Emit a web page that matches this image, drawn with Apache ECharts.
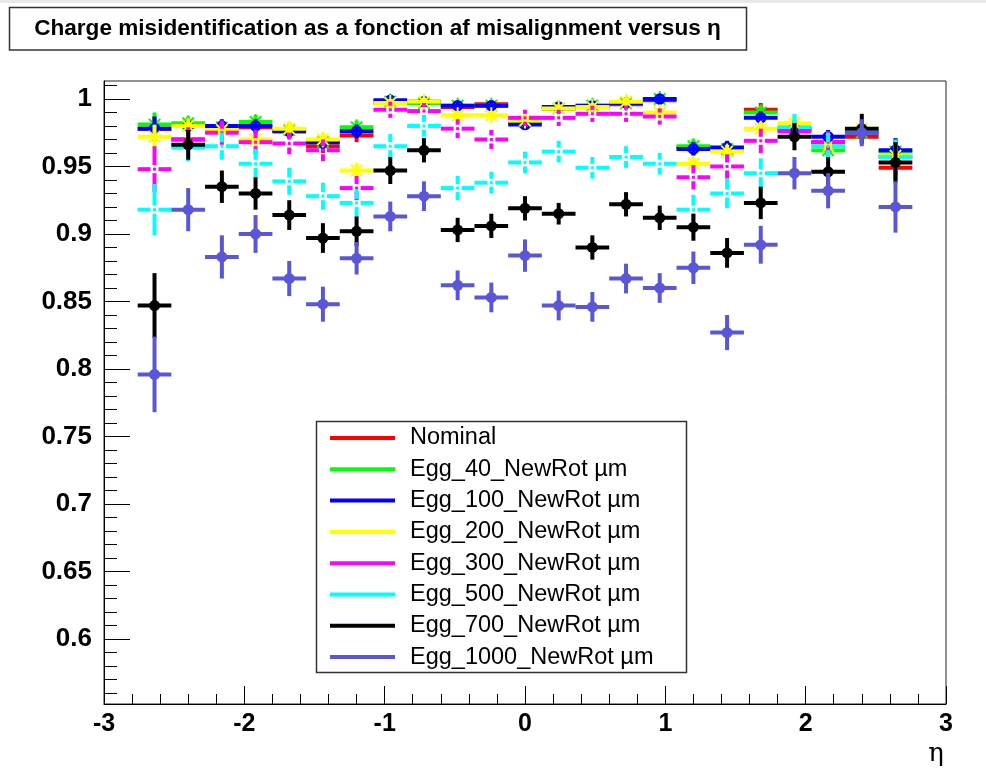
<!DOCTYPE html>
<html>
<head>
<meta charset="utf-8">
<script src="https://cdn.jsdelivr.net/npm/echarts@6/dist/echarts.min.js"></script>
<style>
  html, body { margin: 0; padding: 0; background: #fff; }
  #chart { width: 986px; height: 777px; }
</style>
</head>
<body>
<div id="chart"></div>
<script>
// bin centres in eta (bin width 0.24)
const etaBins = [-2.64, -2.4, -2.16, -1.92, -1.68, -1.44, -1.2, -0.96, -0.72, -0.48, -0.24, 0,
  0.24, 0.48, 0.72, 0.96, 1.2, 1.44, 1.68, 1.92, 2.16, 2.4, 2.64];
const binHalfWidth = 0.12;

// values
const nominal = [0.978, 0.970, 0.977, 0.979, 0.976, 0.965, 0.973, 0.997, 0.997, 0.994, 0.996, 0.984,
  0.993, 0.994, 0.996, 0.999, 0.964, 0.962, 0.992, 0.977, 0.968, 0.972, 0.949];
const egg40 = [0.981, 0.982, 0.979, 0.983, 0.977, 0.968, 0.979, 0.998, 0.997, 0.995, 0.995, 0.983,
  0.993, 0.995, 0.997, 1.000, 0.965, 0.963, 0.990, 0.978, 0.962, 0.975, 0.961];
const egg100 = [0.978, 0.980, 0.980, 0.980, 0.976, 0.968, 0.976, 0.999, 0.998, 0.995, 0.995, 0.981,
  0.994, 0.995, 0.997, 1.000, 0.963, 0.964, 0.986, 0.978, 0.972, 0.976, 0.962];
const egg200 = [0.972, 0.980, 0.977, 0.970, 0.978, 0.970, 0.947, 0.997, 0.998, 0.988, 0.988, 0.984,
  0.993, 0.994, 0.998, 0.990, 0.952, 0.961, 0.978, 0.982, 0.965, 0.978, 0.958];
const egg300 = [0.948, 0.970, 0.975, 0.968, 0.967, 0.962, 0.934, 0.992, 0.991, 0.978, 0.970, 0.986,
  0.986, 0.989, 0.989, 0.987, 0.942, 0.950, 0.969, 0.976, 0.968, 0.975, 0.957];
const egg500 = [0.918, 0.964, 0.965, 0.952, 0.939, 0.928, 0.923, 0.965, 0.980, 0.934, 0.938, 0.953,
  0.961, 0.949, 0.957, 0.952, 0.918, 0.930, 0.945, 0.979, 0.965, 0.976, 0.957];
const egg700 = [0.847, 0.966, 0.935, 0.930, 0.914, 0.897, 0.902, 0.947, 0.962, 0.903, 0.906, 0.919,
  0.915, 0.890, 0.922, 0.912, 0.905, 0.886, 0.923, 0.972, 0.946, 0.978, 0.953];
const egg1000 = [0.796, 0.918, 0.883, 0.900, 0.867, 0.848, 0.882, 0.913, 0.928, 0.862, 0.853, 0.884,
  0.847, 0.846, 0.867, 0.860, 0.875, 0.827, 0.892, 0.945, 0.932, 0.975, 0.920];

// statistical errors
const errSmall = [0.009, 0.005, 0.005, 0.005, 0.005, 0.005, 0.005, 0.003, 0.003, 0.003, 0.003, 0.004,
  0.003, 0.003, 0.003, 0.003, 0.005, 0.005, 0.005, 0.005, 0.005, 0.005, 0.009];
const err300 = [0.017, 0.009, 0.009, 0.009, 0.008, 0.008, 0.009, 0.006, 0.006, 0.007, 0.007, 0.006,
  0.006, 0.006, 0.006, 0.006, 0.009, 0.009, 0.009, 0.008, 0.008, 0.007, 0.012];
const err500 = [0.019, 0.010, 0.010, 0.011, 0.010, 0.010, 0.010, 0.009, 0.008, 0.009, 0.008, 0.008,
  0.008, 0.008, 0.008, 0.008, 0.011, 0.011, 0.011, 0.010, 0.010, 0.008, 0.013];
const err700 = [0.024, 0.011, 0.012, 0.012, 0.011, 0.011, 0.011, 0.010, 0.009, 0.009, 0.009, 0.009,
  0.008, 0.009, 0.009, 0.009, 0.010, 0.011, 0.012, 0.010, 0.011, 0.011, 0.015];
const err1000 = [0.028, 0.016, 0.016, 0.014, 0.013, 0.013, 0.012, 0.011, 0.011, 0.011, 0.011, 0.012,
  0.011, 0.011, 0.011, 0.011, 0.012, 0.013, 0.014, 0.012, 0.013, 0.010, 0.019];

const yMajorTicks = [0.6, 0.65, 0.7, 0.75, 0.8, 0.85, 0.9, 0.95, 1];
const xTicks = [-3, -2, -1, 0, 1, 2, 3];

const seriesList = [
  {name: 'Nominal', values: nominal, errors: errSmall, color: '#ff0000', marker: 'none'},
  {name: 'Egg_40_NewRot \u00b5m', values: egg40, errors: errSmall, color: '#00ff00', marker: 'asterisk'},
  {name: 'Egg_100_NewRot \u00b5m', values: egg100, errors: errSmall, color: '#0000ff', marker: 'ocircle'},
  {name: 'Egg_200_NewRot \u00b5m', values: egg200, errors: errSmall, color: '#ffff00', marker: 'asterisk'},
  {name: 'Egg_300_NewRot \u00b5m', values: egg300, errors: err300, color: '#ff00ff', marker: 'dot'},
  {name: 'Egg_500_NewRot \u00b5m', values: egg500, errors: err500, color: '#00ffff', marker: 'dot'},
  {name: 'Egg_700_NewRot \u00b5m', values: egg700, errors: err700, color: '#000000', marker: 'disc'},
  {name: 'Egg_1000_NewRot \u00b5m', values: egg1000, errors: err1000, color: '#5a56d8', marker: 'disc'}
];

const FONT = 'Liberation Sans, Arial, sans-serif';

// minor y ticks every 0.01
const yMinorTicks = [];
for (let k = 56; k <= 101; k++) {
  if (k % 5 !== 0) yMinorTicks.push(k / 100);
}

function makeRender(s) {
  return function (params, api) {
    const x = api.value(0), y = api.value(1), e = api.value(2);
    const c = api.coord([x, y]);
    const l = api.coord([x - binHalfWidth, y]);
    const r = api.coord([x + binHalfWidth, y]);
    const t = api.coord([x, y + e]);
    const b = api.coord([x, y - e]);
    const st = {stroke: s.color, lineWidth: 4, lineCap: 'butt'};
    const kids = [];
    const gap = s.marker === 'dot' ? 4 : 0;
    if (gap) {
      kids.push({type: 'line', shape: {x1: l[0], y1: c[1], x2: c[0] - gap, y2: c[1]}, style: st});
      kids.push({type: 'line', shape: {x1: c[0] + gap, y1: c[1], x2: r[0], y2: c[1]}, style: st});
      kids.push({type: 'line', shape: {x1: c[0], y1: t[1], x2: c[0], y2: c[1] - gap}, style: st});
      kids.push({type: 'line', shape: {x1: c[0], y1: c[1] + gap, x2: c[0], y2: b[1]}, style: st});
      kids.push({type: 'rect', shape: {x: c[0] - 1.5, y: c[1] - 1.5, width: 3, height: 3}, style: {fill: s.color}});
    } else {
      kids.push({type: 'line', shape: {x1: l[0], y1: c[1], x2: r[0], y2: c[1]}, style: st});
      kids.push({type: 'line', shape: {x1: c[0], y1: t[1], x2: c[0], y2: b[1]}, style: st});
    }
    if (s.marker === 'disc') {
      kids.push({type: 'circle', shape: {cx: c[0], cy: c[1], r: 5.5}, style: {fill: s.color}});
    } else if (s.marker === 'ocircle') {
      kids.push({type: 'circle', shape: {cx: c[0], cy: c[1], r: 4.5}, style: {fill: 'none', stroke: s.color, lineWidth: 2.5}});
    } else if (s.marker === 'asterisk') {
      const a = 8, d = 5.7;
      const ast = {stroke: s.color, lineWidth: 2};
      kids.push({type: 'line', shape: {x1: c[0] - d, y1: c[1] - d, x2: c[0] + d, y2: c[1] + d}, style: ast});
      kids.push({type: 'line', shape: {x1: c[0] - d, y1: c[1] + d, x2: c[0] + d, y2: c[1] - d}, style: ast});
      kids.push({type: 'line', shape: {x1: c[0] - a, y1: c[1], x2: c[0] + a, y2: c[1]}, style: ast});
      kids.push({type: 'line', shape: {x1: c[0], y1: c[1] - a, x2: c[0], y2: c[1] + a}, style: ast});
    }
    return {type: 'group', children: kids};
  };
}

const chart = echarts.init(document.getElementById('chart'), null, {renderer: 'canvas'});

const legendX = 316, legendY = 421, legendRow = 31.3;
const legendItems = [];
seriesList.forEach((s, i) => {
  const yy = legendY + 17 + i * legendRow;
  legendItems.push({type: 'line', shape: {x1: 330, y1: yy, x2: 395, y2: yy}, style: {stroke: s.color, lineWidth: 4}});
  legendItems.push({type: 'text', x: 410, y: yy, style: {text: s.name, font: '23.5px ' + FONT, fill: '#000', textVerticalAlign: 'middle'}});
});

chart.setOption({
  backgroundColor: '#fff',
  animation: false,
  grid: {left: 104, right: 40, top: 81, bottom: 73, show: true, borderColor: '#222', borderWidth: 1, backgroundColor: 'transparent'},
  xAxis: {
    type: 'value', min: xTicks[0], max: xTicks[xTicks.length - 1], interval: 1,
    axisLine: {show: true, onZero: false, lineStyle: {color: '#000', width: 1}},
    axisTick: {show: true, inside: true, length: 18, lineStyle: {color: '#000', width: 1}},
    minorTick: {show: true, splitNumber: 5, length: 10, lineStyle: {color: '#000', width: 1}},
    splitLine: {show: false},
    axisLabel: {fontFamily: FONT, fontSize: 25, fontWeight: 'bold', color: '#000', margin: 8}
  },
  yAxis: [{
    type: 'value', min: 0.5519, max: 1.0133,
    axisLine: {show: true, onZero: false, lineStyle: {color: '#000', width: 1}},
    axisTick: {show: true, inside: true, length: 26, customValues: yMajorTicks, lineStyle: {color: '#000', width: 1}},
    splitLine: {show: false},
    axisLabel: {
      customValues: yMajorTicks, fontFamily: FONT, fontSize: 26, fontWeight: 'bold', color: '#000', margin: 12,
      formatter: v => String(+(+v).toFixed(2))
    }
  }, {
    type: 'value', min: 0.5519, max: 1.0133, position: 'left', offset: 0,
    axisLine: {show: false, onZero: false},
    axisTick: {show: true, inside: true, length: 13, customValues: yMinorTicks, lineStyle: {color: '#000', width: 1}},
    axisLabel: {show: false},
    splitLine: {show: false}
  }],
  graphic: [
    {type: 'rect', shape: {x: 0, y: 0, width: 986, height: 3}, style: {fill: '#e8e8e8'}, silent: true},
    {type: 'rect', shape: {x: 9.5, y: 7.5, width: 737, height: 42.5}, style: {fill: '#fff', stroke: '#333', lineWidth: 1.5}},
    {type: 'text', x: 377.5, y: 29, style: {text: 'Charge misidentification as a fonction af misalignment versus \u03b7',
      font: 'bold 22.6px ' + FONT, fill: '#000', textAlign: 'center', textVerticalAlign: 'middle'}},
    {type: 'text', x: 936, y: 754, style: {text: '\u03b7', font: '26px DejaVu Serif, serif', fill: '#000', textAlign: 'center', textVerticalAlign: 'middle'}},
    {type: 'group', z: 100, children: [
      {type: 'rect', shape: {x: legendX + 0.5, y: legendY + 0.5, width: 370, height: 251}, style: {fill: '#fff', stroke: '#333', lineWidth: 1.5}}
    ].concat(legendItems)}
  ],
  series: seriesList.map(s => ({
    type: 'custom',
    name: s.name,
    clip: true,
    itemStyle: {color: s.color},
    renderItem: makeRender(s),
    encode: {x: 0, y: 1},
    data: etaBins.map((x, i) => [x, s.values[i], s.errors[i]])
  }))
});
</script>
</body>
</html>
